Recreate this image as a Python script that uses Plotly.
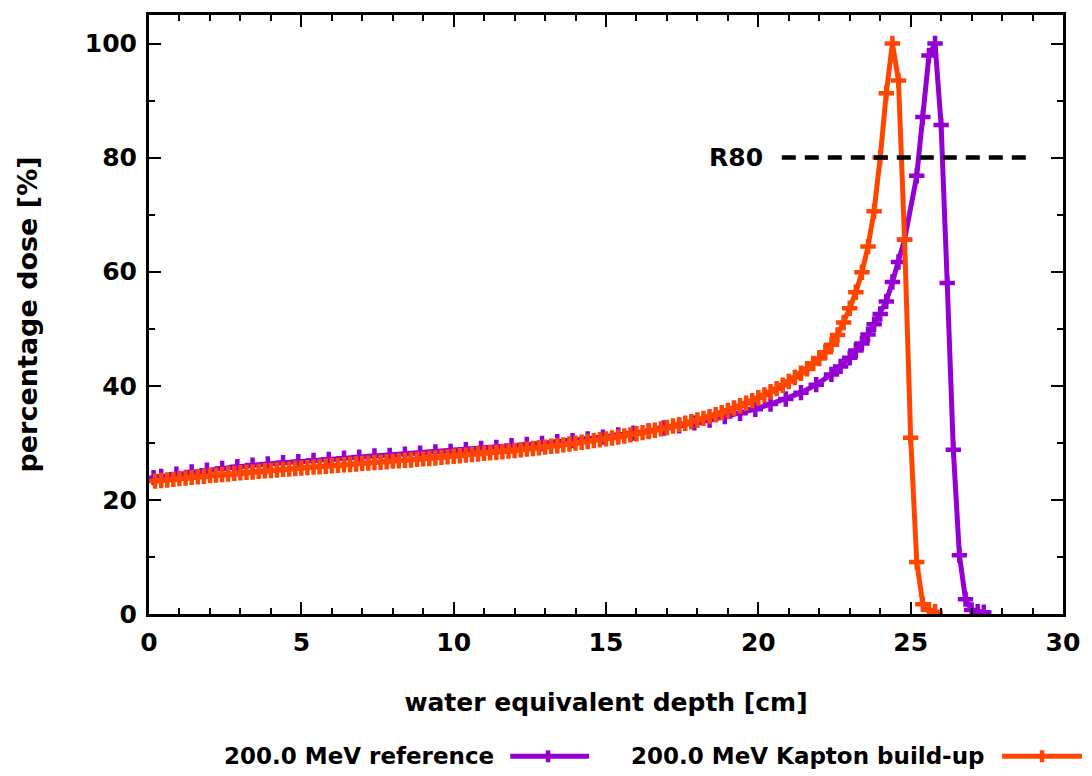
import plotly.graph_objects as go

# ---------------- data ----------------
ref_depth = [0.15, 0.4, 0.9, 1.4, 1.9, 2.4, 2.9, 3.4, 3.9, 4.4, 4.9,
             5.4, 5.9, 6.4, 6.9, 7.4, 7.9, 8.4, 8.9, 9.4, 9.9,
             10.4, 10.9, 11.4, 11.9, 12.4, 12.9, 13.4, 13.9, 14.4, 14.9,
             15.4, 15.9, 16.4, 16.9, 17.4, 17.9, 18.4, 18.9, 19.4, 19.9,
             20.4, 20.9, 21.4, 21.9, 22.4,
             22.7, 23.0, 23.2, 23.4, 23.6, 23.8, 24.0, 24.2, 24.4, 24.6, 24.8,
             25.2, 25.4, 25.6, 25.8,
             26.0, 26.2, 26.4, 26.6, 26.8, 27.0, 27.2, 27.4]
ref_dose = [23.9, 24.1, 24.5, 24.9, 25.2, 25.5, 25.8, 26.1, 26.3, 26.5, 26.7,
            26.9, 27.1, 27.3, 27.5, 27.7, 27.8, 28.0, 28.2, 28.4, 28.5,
            28.8, 29.0, 29.2, 29.5, 29.7, 29.9, 30.2, 30.4, 30.7, 31.0,
            31.4, 31.7, 32.1, 32.6, 33.0, 33.5, 34.0, 34.6, 35.2, 35.9,
            36.8, 37.7, 38.8, 40.2, 42.0,
            43.4, 44.9, 46.2, 47.4, 49.0, 50.8, 52.6, 54.8, 58.2, 61.7, 65.6,
            76.8, 87.1, 97.9, 100.0,
            85.7, 58.0, 28.8, 10.3, 2.6, 0.7, 0.4, 0.3]

kapton_depth = [0.2, 0.4, 0.6, 0.8, 1.0, 1.2, 1.4, 1.6, 1.8, 2.0,
                2.2, 2.4, 2.6, 2.8, 3.0, 3.2, 3.4, 3.6, 3.8, 4.0,
                4.2, 4.4, 4.6, 4.8, 5.0, 5.2, 5.4, 5.6, 5.8, 6.0,
                6.2, 6.4, 6.6, 6.8, 7.0, 7.2, 7.4, 7.6, 7.8, 8.0,
                8.2, 8.4, 8.6, 8.8, 9.0, 9.2, 9.4, 9.6, 9.8, 10.0,
                10.2, 10.4, 10.6, 10.8, 11.0, 11.2, 11.4, 11.6, 11.8, 12.0,
                12.2, 12.4, 12.6, 12.8, 13.0, 13.2, 13.4, 13.6, 13.8, 14.0,
                14.2, 14.4, 14.6, 14.8, 15.0, 15.2, 15.4, 15.6, 15.8, 16.0,
                16.2, 16.4, 16.6, 16.8, 17.0, 17.2, 17.4, 17.6, 17.8, 18.0,
                18.2, 18.4, 18.6, 18.8, 19.0, 19.2, 19.4, 19.6, 19.8, 20.0,
                20.2, 20.4, 20.6, 20.8, 21.0, 21.2, 21.4, 21.6, 21.8, 22.0,
                22.2, 22.4, 22.6, 22.8, 23.0, 23.2, 23.4, 23.6, 23.8, 24.0,
                24.2, 24.4, 24.6, 24.8, 25.0, 25.2, 25.4, 25.6, 25.8]
kapton_dose = [23.3, 23.4, 23.5, 23.6, 23.75, 23.85, 23.95, 24.05, 24.15, 24.25,
               24.35, 24.45, 24.55, 24.65, 24.75, 24.85, 24.9, 25.0, 25.1, 25.15,
               25.25, 25.35, 25.4, 25.5, 25.6, 25.65, 25.75, 25.8, 25.9, 26.0,
               26.05, 26.15, 26.2, 26.3, 26.4, 26.45, 26.55, 26.6, 26.7, 26.8,
               26.85, 26.95, 27.0, 27.1, 27.2, 27.25, 27.35, 27.45, 27.55, 27.65,
               27.75, 27.85, 27.95, 28.05, 28.15, 28.25, 28.35, 28.45, 28.55, 28.65,
               28.8, 28.9, 29.0, 29.15, 29.25, 29.4, 29.5, 29.65, 29.8, 29.95,
               30.1, 30.25, 30.4, 30.55, 30.7, 30.85, 31.0, 31.2, 31.4, 31.6,
               31.8, 32.0, 32.2, 32.45, 32.7, 32.95, 33.2, 33.45, 33.7, 34.0,
               34.3, 34.6, 34.95, 35.3, 35.7, 36.1, 36.5, 36.95, 37.4, 37.9,
               38.4, 38.95, 39.5, 40.1, 40.75, 41.45, 42.2, 43.0, 43.9, 44.8,
               45.9, 47.2, 48.9, 51.1, 53.6, 56.4, 59.9, 64.4, 70.6, 80.0,
               91.3, 100.0, 93.5, 65.6, 30.9, 9.1, 1.7, 0.7, 0.4]

r80_depth = [20.77, 28.91]
r80_dose = [80, 80]

series_names = ["200.0 MeV reference", "200.0 MeV Kapton build-up"]
x_title = "water equivalent depth [cm]"
y_title = "percentage dose [%]"

PURPLE = "#9400d3"
ORANGE = "#ff4500"
FONT = "DejaVu Sans"

fig = go.Figure()
for xs, ys, col in [(ref_depth, ref_dose, PURPLE), (kapton_depth, kapton_dose, ORANGE)]:
    fig.add_trace(go.Scatter(
        x=xs, y=ys, mode="lines+markers",
        line=dict(color=col, width=5),
        marker=dict(symbol="cross-thin", size=11, line=dict(color=col, width=4.5)),
        showlegend=False, cliponaxis=True))

fig.add_trace(go.Scatter(
    x=r80_depth, y=r80_dose, mode="lines",
    line=dict(color="black", width=4.5, dash="14px,9px"),
    showlegend=False))

fig.add_annotation(x=r80_depth[0], y=80, xref="x", yref="y", text="R80",
                   showarrow=False, xanchor="right", yanchor="middle", xshift=-17,
                   font=dict(family=FONT, size=25, color="black", weight="bold"))

# legend (gnuplot style: text then sample)
L, W, T, H = 149.0, 916.0, 12.0, 602.0
def px(xp):
    return (xp - L) / W
def py(yp):
    return (T + H - yp) / H

leg_y = 757
legend_items = [(series_names[0], 497, 511, 590, 549, PURPLE),
                (series_names[1], 989, 1004, 1084, 1044, ORANGE)]
for name, txt_r, l0, l1, mk, col in legend_items:
    fig.add_annotation(x=px(txt_r), y=py(leg_y), xref="paper", yref="paper",
                       text=name, showarrow=False, xanchor="right", yanchor="middle",
                       font=dict(family=FONT, size=23, color="black", weight="bold"))
    fig.add_shape(type="line", xref="paper", yref="paper",
                  x0=px(l0), x1=px(l1), y0=py(leg_y), y1=py(leg_y),
                  line=dict(color=col, width=5))
    fig.add_shape(type="line", xref="paper", yref="paper",
                  x0=px(mk), x1=px(mk), y0=py(leg_y - 6), y1=py(leg_y + 6),
                  line=dict(color=col, width=4.5))

axis_common = dict(
    showline=True, linewidth=3, linecolor="black", mirror="ticks",
    ticks="inside", ticklen=12, tickwidth=2, tickcolor="black",
    showgrid=False, zeroline=False,
    tickfont=dict(family=FONT, size=25, color="black", weight="bold"),
)
fig.update_xaxes(range=[0, 30], tick0=0, dtick=5,
                 minor=dict(dtick=1, ticks="inside", ticklen=6, tickwidth=2, tickcolor="black"),
                 title=dict(text=x_title, standoff=38,
                            font=dict(family=FONT, size=25, color="black", weight="bold")),
                 ticklabelstandoff=4,
                 **axis_common)
fig.update_yaxes(range=[0, 105], tick0=0, dtick=20,
                 minor=dict(dtick=10, ticks="inside", ticklen=6, tickwidth=2, tickcolor="black"),
                 title=dict(text=y_title, standoff=40,
                            font=dict(family=FONT, size=27, color="black", weight="bold")),
                 ticklabelstandoff=4,
                 **axis_common)

fig.update_layout(width=1092, height=776,
                  margin=dict(l=149, r=27, t=12, b=162),
                  plot_bgcolor="white", paper_bgcolor="white",
                  showlegend=False)

fig.write_html("out.html")
